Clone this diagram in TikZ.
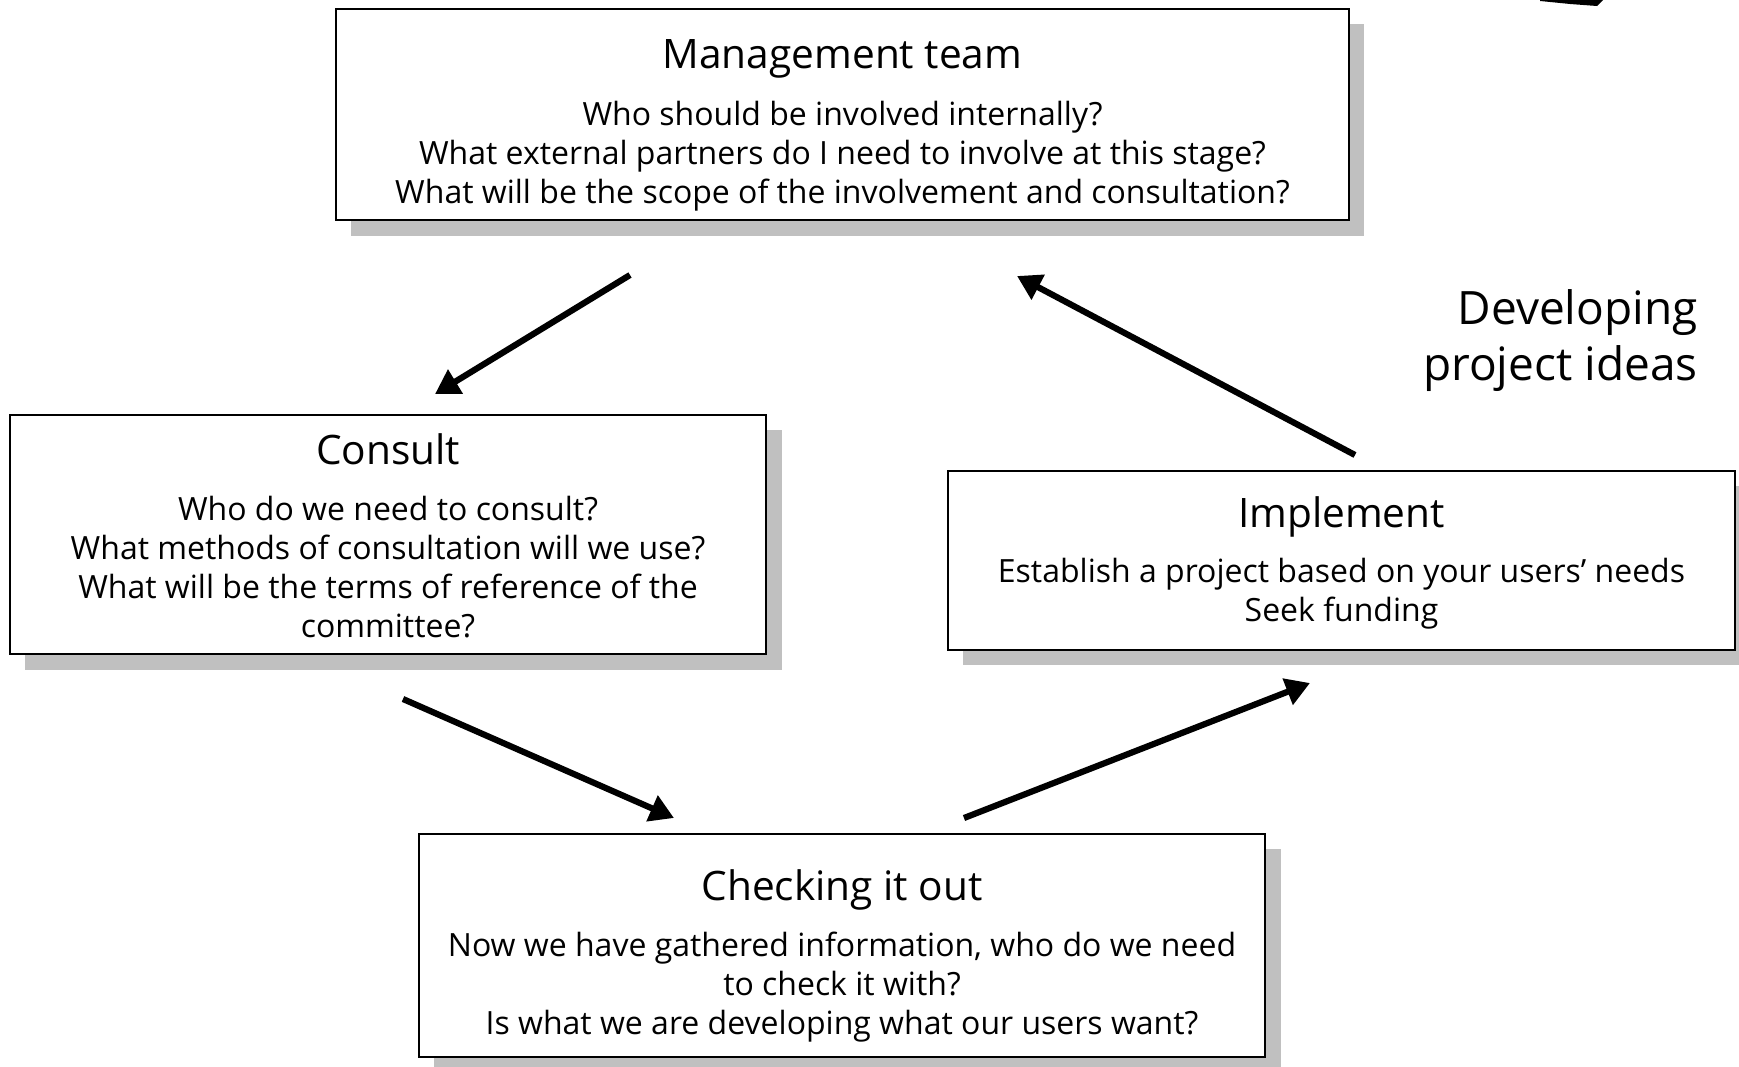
\documentclass[tikz,border=0pt]{standalone}
\usepackage{fontspec}
\setmainfont{Open Sans}
\usetikzlibrary{arrows.meta}
\definecolor{shadowgray}{HTML}{C0C0C0}
\tikzset{
  boxshadow/.style={fill=shadowgray, draw=none},
  stagebox/.style={draw=black, line width=1pt, fill=white},
  titletext/.style={font=\fontsize{20.3}{26}\selectfont, anchor=base, inner sep=0pt},
  % multi-line blocks: the base anchor sits on the last line
  bodytext/.style={font=\fontsize{16}{19.4}\selectfont, align=center, anchor=base, inner sep=0pt},
  flow/.style={line width=3.1pt, -{Triangle[length=12pt,width=13.5pt]}},
}
\begin{document}
\begin{tikzpicture}[x=0.5pt, y=-0.5pt]
\useasboundingbox (0,0) rectangle (1739,1066);

% shadows behind the boxes
\fill[boxshadow] (351,24) rectangle (1364,236);
\fill[boxshadow] (25,430) rectangle (782,670);
\fill[boxshadow] (963,486) rectangle (1750,665);
\fill[boxshadow] (434,849) rectangle (1281,1075);

% boxes
\draw[stagebox] (336,9) rectangle (1349,220);
\draw[stagebox] (10,415) rectangle (766,654);
\draw[stagebox] (948,471) rectangle (1735,650);
\draw[stagebox] (419,834) rectangle (1265,1057);

% Management team
\node[titletext] (mgmtTitle) at (842.5,68) {Management team};
\node[bodytext] (mgmtBody) at (842.5,203) {Who should be involved internally?\\
What external partners do I need to involve at this stage?\\
What will be the scope of the involvement and consultation?};

% Consult
\node[titletext] (consTitle) at (388,464) {Consult};
\node[bodytext] (consBody) at (388,637) {Who do we need to consult?\\
What methods of consultation will we use?\\
What will be the terms of reference of the\\
committee?};

% Implement
\node[titletext] (implTitle) at (1341.5,527) {Implement};
\node[bodytext] (implBody) at (1341.5,621) {Establish a project based on your users’ needs\\
Seek funding};

% Checking it out
\node[titletext] (checkTitle) at (842,900) {Checking it out};
\node[bodytext] (checkBody) at (842,1034) {Now we have gathered information, who do we need\\
to check it with?\\
Is what we are developing what our users want?};

% side label
\node[font=\fontsize{23}{28}\selectfont, align=right, anchor=base east, inner sep=0pt] (cycleLabel) at (1698,380) {Developing\\project ideas};

% arrow ends
\coordinate (a1s) at (630,275);  \coordinate (a1e) at (435,394);
\coordinate (a2s) at (403,699);  \coordinate (a2e) at (674,818);
\coordinate (a3s) at (964,818);  \coordinate (a3e) at (1310,683);
\coordinate (a4s) at (1355,455); \coordinate (a4e) at (1017,276);

\draw[flow] (a1s) -- (a1e);
\draw[flow] (a2s) -- (a2e);
\draw[flow] (a3s) -- (a3e);
\draw[flow] (a4s) -- (a4e);

% tail of a stroke entering at the top edge
\fill (1540,0) -- (1603,0) -- (1597,6) -- (1570,4) -- (1540,1) -- cycle;
\end{tikzpicture}
\end{document}
